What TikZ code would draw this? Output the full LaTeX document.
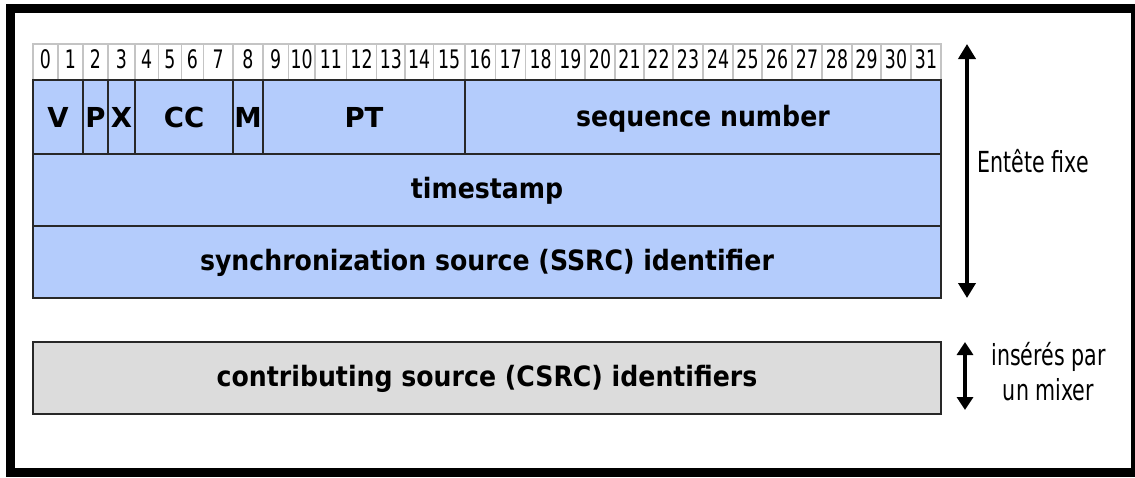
\documentclass[tikz,border=0pt]{standalone}
\usepackage{fontspec}
\setmainfont{DejaVu Sans}
\newfontfamily\condfont[FakeStretch=0.71]{DejaVu Sans}
\newfontfamily\digitfont[FakeStretch=0.68]{DejaVu Sans}
\newfontfamily\labelfont[FakeStretch=0.9]{DejaVu Sans Bold}
\usetikzlibrary{arrows.meta}
\definecolor{fieldblue}{RGB}{180,204,252}
\definecolor{csrcgray}{RGB}{220,220,220}
\definecolor{cellline}{RGB}{196,196,196}
\definecolor{fieldline}{RGB}{40,40,40}
\begin{document}
\begin{tikzpicture}[x=1pt,y=-1pt,
  bitcell/.style={draw=cellline, line width=1.5pt, fill=white, inner sep=0pt, outer sep=0pt,
    minimum height=36pt, text height=18.5pt, text depth=5.5pt, font=\digitfont\fontsize{25.5}{27}\selectfont},
  field/.style={draw=fieldline, line width=1.8pt, fill=fieldblue, inner sep=0pt, outer sep=0pt,
    minimum height=74pt, text height=17pt, text depth=0pt, font=\labelfont\fontsize{28}{30}\selectfont},
  shortfield/.style={field, text height=21pt, font=\bfseries\fontsize{27.5}{29}\selectfont},
  wordfield/.style={field, minimum width=908pt, minimum height=72pt},
  csrcbox/.style={wordfield, fill=csrcgray},
  dimarrow/.style={line width=4pt, {Triangle[width=17pt,length=15pt]}-{Triangle[width=17pt,length=15pt]}},
  smallarrow/.style={line width=4pt, {Triangle[width=16pt,length=13pt]}-{Triangle[width=16pt,length=13pt]}},
  sidelabel/.style={inner sep=0pt, anchor=base, font=\condfont\fontsize{29}{31}\selectfont}
]
\useasboundingbox (0,0) rectangle (1135,477);
\fill[white] (0,0) rectangle (1135,477);
% outer frame
\draw[line width=8.6pt] (10.5,8.2) rectangle (1135.5,472.5);
% bit numbers
\foreach \i/\l/\r in {0/33/58,1/58/83,2/83/108,3/108/135,4/135/158.3,5/158.3/181.7,6/181.7/203.3,7/203.3/233,8/233/263,9/263/288.3,10/288.3/315,11/315/346.7,12/346.7/376.7,13/376.7/405,14/405/433.3,15/433.3/465,16/465/495.7,17/495.7/525.7,18/525.7/555.7,19/555.7/585,20/585/615,21/615/644,22/644/673,23/673/703,24/703/733,25/733/762,26/762/792,27/792/822,28/822/852,29/852/881,30/881/911,31/911/941}
  \node[bitcell, minimum width={(\r-\l)*1pt}] (bit\i) at ({(\l+\r)/2},62) {\i};
% first header word
\node[shortfield, minimum width=50pt]  (v)  at (58,117)    {V};
\node[shortfield, minimum width=25pt]  (p)  at (95.5,117)  {P};
\node[shortfield, minimum width=27pt]  (x)  at (121.5,117) {X};
\node[shortfield, minimum width=98pt]  (cc) at (184,117)   {CC};
\node[shortfield, minimum width=30pt]  (m)  at (248,117)   {M};
\node[shortfield, minimum width=202pt] (pt) at (364,117)   {PT};
\node[field, minimum width=476pt, text height=19pt] (seq) at (703,117) {sequence number};
% other words
\node[wordfield] (ts)   at (487,190) {timestamp};
\node[wordfield] (ssrc) at (487,262) {synchronization source (SSRC) identifier};
\node[csrcbox]   (csrc) at (487,378) {contributing source (CSRC) identifiers};
% dimension arrows
\coordinate (fixtop) at (967,44);
\coordinate (fixbot) at (967,298);
\draw[dimarrow] (fixtop) -- (fixbot);
\node[sidelabel] (fixlabel) at (1033,172) {Entête fixe};
\coordinate (mixtop) at (965,342);
\coordinate (mixbot) at (965,410);
\draw[smallarrow] (mixtop) -- (mixbot);
\node[sidelabel] (mixlabel1) at (1048.5,365) {insérés par};
\node[sidelabel] (mixlabel2) at (1048.5,400) {un mixer};
\end{tikzpicture}
\end{document}
